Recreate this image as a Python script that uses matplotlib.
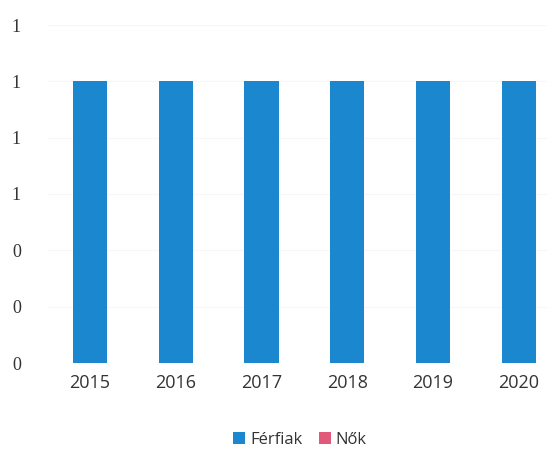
import numpy as np
import matplotlib
matplotlib.use("Agg")
import matplotlib.pyplot as plt
from matplotlib.ticker import FuncFormatter

years = ['2015', '2016', '2017', '2018', '2019', '2020']
ferfiak = [1, 1, 1, 1, 1, 1]
nok = [0, 0, 0, 0, 0, 0]
yticks = [0, 0.2, 0.4, 0.6, 0.8, 1.0, 1.2]

fig = plt.figure(figsize=(5.47, 4.57), dpi=100)
ax = fig.add_axes([48 / 547, 94 / 457, 499 / 547, 338 / 457])

x = np.arange(len(years))
ax.bar(x, ferfiak, width=0.4, color='#1b87cf', label='Férfiak', zorder=2)
ax.bar(x, nok, width=0.4, bottom=ferfiak, color='#e2587a', label='Nők', zorder=2)

ax.set_xlim(-0.49, 5.33)
ax.set_ylim(0, 1.2)
ax.set_yticks(yticks)
ax.yaxis.set_major_formatter(FuncFormatter(lambda v, p: f'{v:.0f}'))
ax.set_xticks(x)
ax.set_xticklabels(years, fontfamily='Open Sans', fontsize=13, color='#333333')
ax.tick_params(length=0, pad=8)
ax.tick_params(axis='y', pad=26)
for t in ax.get_yticklabels():
    t.set_fontfamily('Liberation Serif')
    t.set_fontsize(13)
    t.set_color('#333333')
    t.set_horizontalalignment('left')
ax.grid(axis='y', color='#f7f7f7', linewidth=0.8, zorder=0)
for s in ax.spines.values():
    s.set_visible(False)

leg = fig.legend(loc='center', bbox_to_anchor=(300 / 547, 1 - 440 / 457), ncol=2,
                 frameon=False, handlelength=0.7, handleheight=0.7, handletextpad=0.3,
                 columnspacing=1.0, prop={'family': 'Open Sans', 'size': 12})
for t in leg.get_texts():
    t.set_color('#333333')

fig.savefig('out.png', dpi=100)
